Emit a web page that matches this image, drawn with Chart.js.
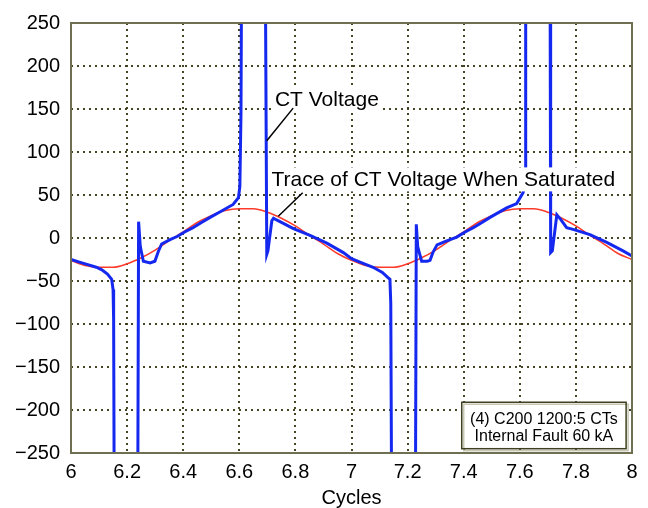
<!DOCTYPE html>
<html>
<head>
<meta charset="utf-8">
<script src="https://cdn.jsdelivr.net/npm/chart.js@4.4.1/dist/chart.umd.min.js"></script>
<style>
  html, body { margin: 0; padding: 0; background: #fff; }
  #wrap { width: 648px; height: 508px; }
</style>
</head>
<body>
<div id="wrap"><canvas id="myChart" width="648" height="508"></canvas></div>
<script>
const xTicks = [6, 6.2, 6.4, 6.6, 6.8, 7, 7.2, 7.4, 7.6, 7.8, 8];
const yTicks = [-250, -200, -150, -100, -50, 0, 50, 100, 150, 200, 250];

// CT voltage (blue), values beyond +-250 are off the plot
const ctX = [6.000, 6.030, 6.060, 6.090, 6.110, 6.130, 6.145, 6.150, 6.152, 6.154,
  6.238, 6.241, 6.247, 6.258, 6.282, 6.299, 6.311, 6.323, 6.353, 6.380,
  6.405, 6.435, 6.465, 6.496, 6.540, 6.578, 6.597, 6.602, 6.606, 6.608,
  6.693, 6.698, 6.702, 6.716, 6.722, 6.733, 6.793, 6.852, 6.912, 6.971,
  7.000, 7.030, 7.077, 7.110, 7.130, 7.137, 7.140, 7.143, 7.228, 7.231,
  7.236, 7.250, 7.270, 7.280, 7.290, 7.305, 7.335, 7.375, 7.405, 7.434,
  7.465, 7.494, 7.553, 7.589, 7.612, 7.619, 7.621, 7.708, 7.710, 7.716,
  7.732, 7.745, 7.767, 7.790, 7.850, 7.910, 7.968, 8.000];
const ctY = [-25, -28, -31, -34, -37, -42, -48, -60, -95, -300,
  -300, 19, -10, -27, -29, -27, -16, -7, -2, 2,
  7, 12, 18, 24, 32, 39, 47, 60, 145, 300,
  300, -19, -15, 20, 23, 21, 11, 3, -6, -17,
  -24, -28, -34, -40, -46, -48, -76, -300, -300, 16,
  -10, -27, -27, -26, -17, -8, -4, 1, 7, 12,
  18, 24, 35, 40, 53, 70, 300, 300, -17, -15,
  27, 22, 12, 10, 4, -5, -15, -21];

// trace of CT voltage when saturated (red)
const traceX = [6.00, 6.05, 6.10, 6.15, 6.20, 6.25, 6.30, 6.35, 6.40, 6.45,
  6.50, 6.55, 6.60, 6.65, 6.70, 6.75, 6.80, 6.85, 6.90, 6.95,
  7.00, 7.05, 7.10, 7.15, 7.20, 7.25, 7.30, 7.35, 7.40, 7.45,
  7.50, 7.55, 7.60, 7.65, 7.70, 7.75, 7.80, 7.85, 7.90, 7.95, 8.00];
const traceY = [-26, -32, -34, -34, -30, -23, -14, -3, 7, 18,
  26, 32, 34, 34, 30, 23, 14, 3, -7, -18,
  -26, -32, -34, -34, -30, -23, -14, -3, 7, 18,
  26, 32, 34, 34, 30, 23, 14, 3, -7, -18, -25];

const font = '"Liberation Sans", Arial, sans-serif';

const callouts = [
  { text: "CT Voltage", at: [6.727, 154], from: [6.792, 151], to: [6.698, 113] },
  { text: "Trace of CT Voltage When Saturated", at: [6.715, 60], from: [6.826, 52.6], to: [6.739, 25.3] }
];
const noteLines = ["(4) C200 1200:5 CTs", "Internal Fault 60 kA"];
const noteBox = { x1: 7.393, y1: -191, x2: 7.979, y2: -245 };

const notes = {
  id: "notes",
  afterDatasetsDraw(chart) {
    const { ctx, chartArea: a, scales: { x, y } } = chart;
    ctx.save();
    ctx.strokeStyle = "#6f6f52";
    ctx.lineWidth = 2;
    ctx.strokeRect(a.left, a.top, a.right - a.left, a.bottom - a.top);

    ctx.font = "21px " + font;
    ctx.textBaseline = "alphabetic";
    callouts.forEach(c => {
      const px = x.getPixelForValue(c.at[0]);
      const py = y.getPixelForValue(c.at[1]);
      const w = ctx.measureText(c.text).width;
      ctx.fillStyle = "#fff";
      ctx.fillRect(px - 3, py - 19, w + 6, 24);
      ctx.fillStyle = "#000";
      ctx.fillText(c.text, px, py);
      ctx.beginPath();
      ctx.moveTo(x.getPixelForValue(c.from[0]), y.getPixelForValue(c.from[1]));
      ctx.lineTo(x.getPixelForValue(c.to[0]), y.getPixelForValue(c.to[1]));
      ctx.strokeStyle = "#000";
      ctx.lineWidth = 1.5;
      ctx.stroke();
    });

    const bx1 = x.getPixelForValue(noteBox.x1), bx2 = x.getPixelForValue(noteBox.x2);
    const by1 = y.getPixelForValue(noteBox.y1), by2 = y.getPixelForValue(noteBox.y2);
    ctx.fillStyle = "#fff";
    ctx.fillRect(bx1, by1, bx2 - bx1, by2 - by1);
    ctx.strokeStyle = "#c8c8b4";
    ctx.lineWidth = 1.5;
    ctx.strokeRect(bx1 + 2, by1 + 2, bx2 - bx1, by2 - by1);
    ctx.strokeStyle = "#3f3f22";
    ctx.strokeRect(bx1, by1, bx2 - bx1, by2 - by1);
    ctx.fillStyle = "#000";
    ctx.font = "16px " + font;
    ctx.textAlign = "center";
    const cx = (bx1 + bx2) / 2;
    ctx.fillText(noteLines[0], cx, by1 + 22);
    ctx.fillText(noteLines[1], cx, by1 + 38.5);
    ctx.restore();
  }
};

const gridStyle = { color: "rgba(50,50,15,0.9)", lineWidth: 2, drawTicks: false };

new Chart(document.getElementById("myChart"), {
  type: "line",
  data: {
    datasets: [
      {
        label: "CT Voltage",
        data: ctX.map((v, i) => ({ x: v, y: ctY[i] })),
        borderColor: "#1428f0",
        borderWidth: 3,
        pointRadius: 0,
        tension: 0
      },
      {
        label: "Trace",
        data: traceX.map((v, i) => ({ x: v, y: traceY[i] })),
        borderColor: "#ff3a2a",
        borderWidth: 1.5,
        pointRadius: 0,
        cubicInterpolationMode: "monotone"
      }
    ]
  },
  options: {
    responsive: false,
    animation: false,
    layout: { padding: { top: 13, right: 16, left: 0, bottom: 0 } },
    plugins: { legend: { display: false }, tooltip: { enabled: false } },
    scales: {
      x: {
        type: "linear",
        min: 6,
        max: 8,
        afterBuildTicks: s => { s.ticks = xTicks.map(v => ({ value: v })); },
        afterFit: s => { s.height = 55; },
        grid: gridStyle,
        border: { display: false, dash: [2, 4] },
        ticks: {
          padding: 7,
          color: "#000",
          font: { family: font, size: 20 },
          maxRotation: 0,
          callback: v => String(Number(v.toFixed(1)))
        },
        title: {
          display: true,
          text: "Cycles",
          color: "#000",
          font: { family: font, size: 20, lineHeight: 1 },
          padding: 0
        }
      },
      y: {
        type: "linear",
        min: -250,
        max: 250,
        afterBuildTicks: s => { s.ticks = yTicks.map(v => ({ value: v })); },
        afterFit: s => { s.width = 71; },
        grid: gridStyle,
        border: { display: false, dash: [2, 4] },
        ticks: {
          padding: 11,
          color: "#000",
          font: { family: font, size: 20 },
          callback: v => String(v).replace("-", "\u2212")
        }
      }
    }
  },
  plugins: [notes]
});
</script>
</body>
</html>
